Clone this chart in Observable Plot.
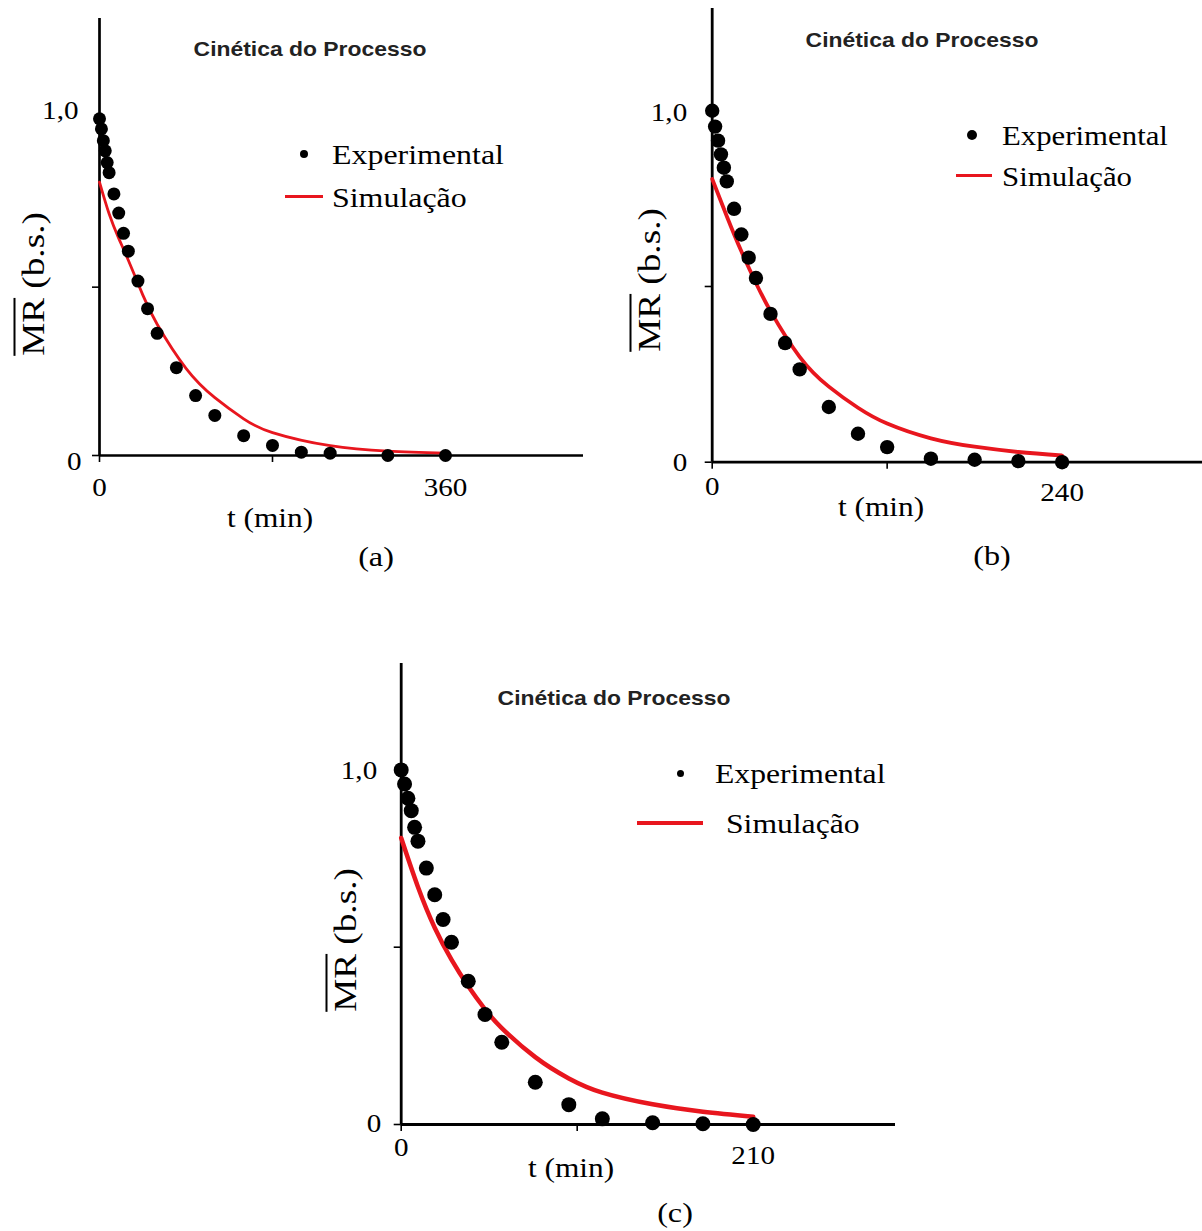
<!DOCTYPE html>
<html>
<head>
<meta charset="utf-8">
<script src="https://cdn.jsdelivr.net/npm/d3@7"></script>
<script src="https://cdn.jsdelivr.net/npm/@observablehq/plot@0.6"></script>
<style>
  body { margin: 0; background: #fff; }
  #page { position: relative; width: 1202px; height: 1231px; overflow: hidden; background: #fff; }
  .lbl { position: absolute; white-space: nowrap; line-height: 1; }
  .panel { position: absolute; }
</style>
</head>
<body>
<div id="page"></div>
<script>
// ---- Panel (a): drying at the first condition ----
const tExpA  = [0, 2, 4, 6, 8, 10, 15, 20, 25, 30, 40, 50, 60, 80, 100, 120, 150, 180, 210, 240, 300, 360];
const mrExpA = [1.0, 0.97, 0.935, 0.905, 0.87, 0.84, 0.777, 0.72, 0.66, 0.607, 0.518, 0.436, 0.363, 0.261, 0.178, 0.119, 0.059, 0.030, 0.010, 0.007, 0.0, 0.0];
const tSimA  = [0, 10, 20, 30, 45, 60, 90, 120, 150, 180, 240, 300, 360];
const mrSimA = [0.812, 0.718, 0.645, 0.58, 0.477, 0.39, 0.259, 0.172, 0.109, 0.068, 0.029, 0.013, 0.007];

// ---- Panel (b) ----
const tExpB  = [0, 2, 4, 6, 8, 10, 15, 20, 25, 30, 40, 50, 60, 80, 100, 120, 150, 180, 210, 240];
const mrExpB = [1.0, 0.955, 0.915, 0.876, 0.838, 0.799, 0.721, 0.648, 0.582, 0.524, 0.422, 0.339, 0.264, 0.157, 0.081, 0.043, 0.010, 0.007, 0.003, 0.0];
const tSimB  = [0, 10, 20, 30, 40, 60, 80, 100, 120, 150, 180, 210, 240];
const mrSimB = [0.806, 0.70, 0.60, 0.51, 0.43, 0.30, 0.215, 0.155, 0.11, 0.068, 0.044, 0.029, 0.019];

// ---- Panel (c) ----
const tExpC  = [0, 2, 4, 6, 8, 10, 15, 20, 25, 30, 40, 50, 60, 80, 100, 120, 150, 180, 210];
const mrExpC = [1.0, 0.96, 0.92, 0.885, 0.838, 0.799, 0.723, 0.648, 0.578, 0.514, 0.404, 0.310, 0.232, 0.119, 0.056, 0.016, 0.005, 0.002, 0.0];
const tSimC  = [0, 10, 20, 30, 40, 50, 60, 80, 100, 120, 150, 180, 210];
const mrSimC = [0.808, 0.67, 0.555, 0.465, 0.39, 0.325, 0.272, 0.19, 0.13, 0.09, 0.057, 0.036, 0.022];

// Axis tick labels
const yTopLabel = "1,0";
const zeroLabel = "0";
const xEndA = 360, xEndB = 240, xEndC = 210;

// Text
const titleText = "Cinética do Processo";
const legendExp = "Experimental";
const legendSim = "Simulação";
const xTitle = "t (min)";
const panelTags = ["(a)", "(b)", "(c)"];

const SERIF = "'Liberation Serif','Times New Roman',serif";
const SANS = "'Liberation Sans',Arial,sans-serif";
const RED = "#e8161e";

const rows = (ts, vs) => ts.map((t, i) => ({t, mr: vs[i]}));
const page = document.getElementById("page");

// Widen every SVG text horizontally about its own anchor point
// (only the x attribute is folded into the transform; em-based y offsets stay as they are)
function stretchText(svg, sx) {
  svg.querySelectorAll("text").forEach(t => {
    const x = t.getAttribute("x");
    const tr = t.getAttribute("transform") || "";
    let extra = "";
    if (x != null && !isNaN(+x)) {
      extra = ` translate(${+x},0)`;
      t.removeAttribute("x");
    }
    t.setAttribute("transform", `${tr}${extra} scale(${sx},1)`);
  });
}

function label(html, o) {
  const d = document.createElement("div");
  d.className = "lbl";
  d.innerHTML = html;
  d.style.left = o.x + "px";
  d.style.top = o.y + "px";
  d.style.fontFamily = o.family || SERIF;
  d.style.fontSize = (o.size || 28) + "px";
  d.style.fontWeight = o.weight || "normal";
  d.style.color = o.color || "#000";
  const sx = o.sx || 1;
  if (o.rotate) {
    d.style.transformOrigin = "50% 50%";
    d.style.transform = `translate(-50%,-50%) rotate(${o.rotate}deg) scale(${sx},1)`;
  } else if (o.anchor === "start") {
    d.style.transformOrigin = "0 50%";
    d.style.transform = `translate(0,-50%) scale(${sx},1)`;
  } else {
    d.style.transformOrigin = "50% 50%";
    d.style.transform = `translate(-50%,-50%) scale(${sx},1)`;
  }
  page.appendChild(d);
  return d;
}

function swatchDot(cx, cy, r) {
  const d = document.createElement("div");
  Object.assign(d.style, {position: "absolute", left: (cx - r) + "px", top: (cy - r) + "px",
    width: 2 * r + "px", height: 2 * r + "px", borderRadius: "50%", background: "#000"});
  page.appendChild(d);
}
function swatchLine(x1, x2, cy, w) {
  const d = document.createElement("div");
  Object.assign(d.style, {position: "absolute", left: x1 + "px", top: (cy - w / 2) + "px",
    width: (x2 - x1) + "px", height: w + "px", background: RED});
  page.appendChild(d);
}

function drawPanel(p) {
  const exp = rows(p.tExp, p.mrExp);
  const sim = rows(p.tSim, p.mrSim);
  const chart = Plot.plot({
    width: p.w, height: p.h,
    marginLeft: p.ml, marginRight: p.mr, marginTop: p.mt, marginBottom: p.mb,
    style: {background: "transparent", fontFamily: SERIF, fontSize: p.tickFont + "px", color: "#000", overflow: "visible"},
    x: {domain: [0, p.xMax], axis: null, label: null},
    y: {domain: [0, p.yMax], axis: null, label: null},
    marks: [
      Plot.ruleX([0], {stroke: "#000", strokeWidth: p.axisW}),
      Plot.ruleY([0], {stroke: "#000", strokeWidth: p.axisW}),
      Plot.axisX({ticks: [0, p.xEnd / 2], tickSize: 7, strokeWidth: 1.6, tickFormat: () => ""}),
      Plot.axisY({ticks: [0, 0.5], tickSize: 7, strokeWidth: 1.6, tickFormat: () => ""}),
      Plot.axisX({ticks: [0], tickSize: 0, tickPadding: p.padX0, tickFormat: () => zeroLabel}),
      Plot.axisX({ticks: [p.xEnd], tickSize: 0, tickPadding: p.padXE, tickFormat: d => String(d)}),
      Plot.axisY({ticks: [1], tickSize: 0, tickPadding: p.padY1, dy: p.dyY1, tickFormat: () => yTopLabel}),
      Plot.axisY({ticks: [0], tickSize: 0, tickPadding: p.padY0, dy: p.dyY0, tickFormat: () => zeroLabel}),
      Plot.line(sim, {x: "t", y: "mr", stroke: RED, strokeWidth: p.lineW, curve: "natural"}),
      Plot.dot(exp, {x: "t", y: "mr", r: p.r, fill: "#000", stroke: null})
    ]
  });
  stretchText(chart, 1.12);
  chart.classList.add("panel");
  chart.style.left = p.left + "px";
  chart.style.top = p.top + "px";
  chart.style.position = "absolute";
  chart.style.maxWidth = "none";
  page.appendChild(chart);

  const o = p.ov;
  label(titleText, {x: o.title[0], y: o.title[1], family: SANS, weight: "bold", size: 21, sx: 1.09, color: "#222"});
  swatchDot(o.dot[0], o.dot[1], o.dotR);
  label(legendExp, {x: o.exp[0], y: o.exp[1], anchor: "start", sx: o.legSx});
  swatchLine(o.line[0], o.line[1], o.line[2], o.lineW);
  label(legendSim, {x: o.sim[0], y: o.sim[1], anchor: "start", sx: o.legSx});
  label(xTitle, {x: o.xt[0], y: o.xt[1], sx: 1.12});
  label(o.tag, {x: o.tagPos[0], y: o.tagPos[1], sx: 1.15});
  label('<span style="text-decoration:overline;text-decoration-thickness:2px">MR</span> (b.s.)',
    {x: o.yt[0], y: o.yt[1], size: 31, sx: 1.2, rotate: -90});
}

drawPanel({
  tExp: tExpA, mrExp: mrExpA, tSim: tSimA, mrSim: mrSimA, xEnd: xEndA,
  left: 0, top: 0, w: 600, h: 600, ml: 99, mr: 17, mt: 18, mb: 145,
  xMax: 503.6, yMax: 1.298, tickFont: 26, axisW: 2.7, lineW: 2.8, r: 6.5,
  padX0: 22, padXE: 22, padY1: 21, dyY1: -8, padY0: 18, dyY0: 6,
  ov: {title: [309.5, 48], dot: [303.8, 154], dotR: 4, exp: [331.5, 155], sim: [331.5, 198], legSx: 1.14,
       line: [284.6, 323, 196.7], lineW: 3, xt: [270, 518], tag: panelTags[0], tagPos: [375.5, 557], yt: [33, 284]}
});

drawPanel({
  tExp: tExpB, mrExp: mrExpB, tSim: tSimB, mrSim: mrSimB, xEnd: xEndB,
  left: 600, top: 0, w: 602, h: 600, ml: 111.7, mr: 0, mt: 8, mb: 138.3,
  xMax: 336.3, yMax: 1.291, tickFont: 26, axisW: 2.8, lineW: 3.8, r: 7.2,
  padX0: 14, padXE: 20, padY1: 25, dyY1: 2, padY0: 25, dyY0: 0.5,
  ov: {title: [922, 38.5], dot: [972, 135], dotR: 5, exp: [1002, 136], sim: [1002, 177], legSx: 1.10,
       line: [955.8, 992.3, 175.7], lineW: 3, xt: [881, 507], tag: panelTags[1], tagPos: [992, 556], yt: [649, 280]}
});

drawPanel({
  tExp: tExpC, mrExp: mrExpC, tSim: tSimC, mrSim: mrSimC, xEnd: xEndC,
  left: 300, top: 650, w: 600, h: 581, ml: 100.7, mr: 5, mt: 13, mb: 107,
  xMax: 294.9, yMax: 1.30, tickFont: 26, axisW: 2.8, lineW: 4.5, r: 7.5,
  padX0: 13, padXE: 21, padY1: 24, dyY1: 1, padY0: 20, dyY0: -0.5,
  ov: {title: [613.7, 696.7], dot: [680.8, 773.3], dotR: 3.5, exp: [715.4, 774], sim: [726, 824], legSx: 1.13,
       line: [636.5, 703, 823.3], lineW: 4, xt: [571, 1168], tag: panelTags[2], tagPos: [675, 1213], yt: [345, 940]}
});
</script>
</body>
</html>
